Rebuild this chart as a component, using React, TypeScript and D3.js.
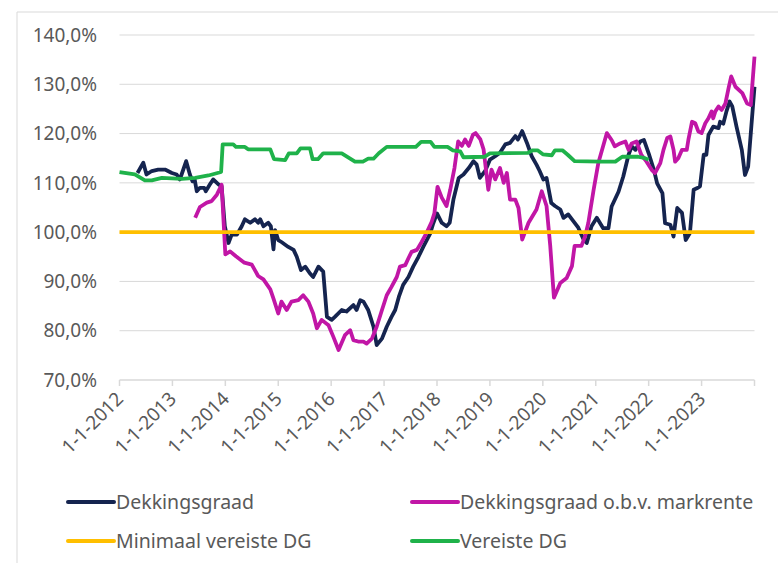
import * as d3 from "d3";

// Dekkingsgraad (decimal years / %)
const dgYears = [
  2012.34, 2012.45, 2012.51, 2012.61, 2012.73, 2012.86, 2012.99, 2013.08, 2013.14, 2013.18,
  2013.26, 2013.33, 2013.38, 2013.42, 2013.46, 2013.52, 2013.6, 2013.63, 2013.71, 2013.77,
  2013.87, 2013.93, 2013.99, 2014.06, 2014.12, 2014.22, 2014.31, 2014.37, 2014.47, 2014.56,
  2014.62, 2014.66, 2014.72, 2014.81, 2014.86, 2014.91, 2014.94, 2015.0, 2015.06, 2015.19,
  2015.29, 2015.35, 2015.43, 2015.51, 2015.6, 2015.66, 2015.76, 2015.85, 2015.92, 2016.01,
  2016.07, 2016.2, 2016.29, 2016.42, 2016.48, 2016.55, 2016.61, 2016.7, 2016.8, 2016.86,
  2016.96, 2017.05, 2017.14, 2017.21, 2017.28, 2017.36, 2017.46, 2017.55, 2017.65, 2017.74,
  2017.87, 2017.93, 2018.0, 2018.09, 2018.18, 2018.24, 2018.31, 2018.41, 2018.5, 2018.6,
  2018.69, 2018.75, 2018.81, 2018.91, 2019.0, 2019.1, 2019.19, 2019.29, 2019.38, 2019.48,
  2019.53, 2019.61, 2019.7, 2019.79, 2019.88, 2019.94, 2020.01, 2020.07, 2020.16, 2020.23,
  2020.33, 2020.39, 2020.48, 2020.58, 2020.67, 2020.77, 2020.83, 2020.92, 2021.02, 2021.14,
  2021.24, 2021.3, 2021.43, 2021.52, 2021.62, 2021.68, 2021.75, 2021.84, 2021.91, 2022.0,
  2022.1, 2022.16, 2022.26, 2022.31, 2022.41, 2022.47, 2022.54, 2022.63, 2022.7, 2022.78,
  2022.85, 2022.91, 2022.97, 2023.04, 2023.09, 2023.13, 2023.22, 2023.32, 2023.35, 2023.41,
  2023.47, 2023.53, 2023.58, 2023.66, 2023.76, 2023.82, 2023.88, 2024.0,
];
const dgValues = [
  112.0, 114.1, 111.7, 112.4, 112.7, 112.7, 112.0, 111.7, 110.7, 111.9,
  114.4, 111.7, 110.3, 110.7, 108.3, 109.0, 109.0, 108.3, 109.7, 110.7,
  109.7, 109.3, 101.2, 97.8, 99.5, 99.5, 101.2, 102.6, 101.9, 102.6,
  101.9, 102.6, 101.2, 101.9, 101.2, 96.5, 100.4, 98.4, 98.0, 97.0,
  96.4, 95.0, 92.3, 93.0, 91.6, 90.9, 93.0, 92.0, 82.8, 82.2,
  82.8, 84.2, 83.9, 85.2, 84.2, 86.2, 85.9, 84.2, 80.8, 77.1,
  78.4, 80.8, 82.8, 84.2, 86.9, 89.3, 90.9, 93.0, 95.0, 97.0,
  99.7, 101.8, 103.8, 101.9, 101.2, 101.9, 106.6, 111.0, 111.7, 113.0,
  114.4, 113.7, 111.0, 112.4, 114.7, 115.4, 116.1, 117.8, 118.1, 119.5,
  118.8, 120.5, 118.1, 115.4, 113.7, 112.4, 110.7, 111.0, 105.9, 105.3,
  104.6, 102.9, 103.6, 102.2, 100.9, 98.5, 97.8, 101.2, 102.9, 100.8,
  100.8, 105.2, 108.2, 111.3, 115.7, 117.4, 116.7, 118.4, 118.7, 116.0,
  112.6, 109.9, 107.9, 101.8, 101.5, 99.1, 104.9, 103.9, 98.4, 99.8,
  108.6, 108.9, 109.3, 115.7, 115.7, 119.7, 121.4, 121.1, 122.4, 122.0,
  124.5, 126.5, 125.5, 121.4, 116.7, 111.6, 113.3, 129.5,
];

// Dekkingsgraad o.b.v. markrente
const marktYears = [
  2013.43, 2013.52, 2013.65, 2013.74, 2013.84, 2013.93, 2014.0, 2014.09, 2014.2, 2014.36,
  2014.5, 2014.62, 2014.72, 2014.85, 2014.91, 2015.0, 2015.06, 2015.16, 2015.25, 2015.38,
  2015.47, 2015.57, 2015.66, 2015.73, 2015.82, 2015.95, 2016.04, 2016.14, 2016.26, 2016.36,
  2016.42, 2016.51, 2016.61, 2016.67, 2016.77, 2016.86, 2016.96, 2017.05, 2017.14, 2017.24,
  2017.3, 2017.4, 2017.46, 2017.52, 2017.62, 2017.71, 2017.81, 2017.9, 2017.95, 2018.01,
  2018.09, 2018.18, 2018.25, 2018.33, 2018.4, 2018.47, 2018.53, 2018.6, 2018.68, 2018.73,
  2018.82, 2018.88, 2018.97, 2019.03, 2019.1, 2019.19, 2019.26, 2019.32, 2019.38, 2019.48,
  2019.54, 2019.61, 2019.73, 2019.88, 2019.98, 2020.07, 2020.14, 2020.21, 2020.33, 2020.45,
  2020.55, 2020.6, 2020.73, 2020.8, 2020.86, 2020.96, 2021.05, 2021.21, 2021.3, 2021.36,
  2021.46, 2021.56, 2021.62, 2021.68, 2021.77, 2021.86, 2021.96, 2022.06, 2022.12, 2022.22,
  2022.28, 2022.35, 2022.41, 2022.47, 2022.5, 2022.56, 2022.63, 2022.72, 2022.75, 2022.82,
  2022.88, 2022.94, 2023.0, 2023.07, 2023.13, 2023.19, 2023.22, 2023.26, 2023.32, 2023.38,
  2023.45, 2023.51, 2023.56, 2023.64, 2023.77, 2023.86, 2023.93, 2024.0,
];
const marktValues = [
  102.9, 105.1, 106.0, 106.3, 107.6, 109.6, 95.5, 96.1, 95.1, 93.8,
  93.4, 91.1, 90.4, 88.4, 86.5, 83.5, 85.9, 84.2, 85.9, 86.2,
  87.2, 85.9, 83.5, 80.5, 82.2, 81.1, 78.8, 76.1, 79.1, 80.1,
  78.1, 77.8, 77.8, 77.4, 78.4, 80.8, 84.2, 87.2, 88.9, 90.9,
  93.0, 93.3, 94.7, 96.0, 96.4, 98.0, 100.0, 102.1, 103.8, 109.2,
  107.0, 105.3, 108.6, 113.0, 118.4, 117.5, 118.8, 117.5, 119.8, 120.1,
  118.8, 116.8, 108.6, 112.7, 110.7, 113.0, 110.0, 112.0, 106.6, 106.6,
  104.9, 98.5, 101.9, 104.6, 108.3, 105.3, 97.2, 86.7, 89.7, 90.7,
  93.1, 97.2, 97.2, 99.2, 101.9, 108.6, 114.1, 120.1, 118.7, 117.4,
  118.0, 118.4, 116.7, 118.0, 118.4, 115.7, 114.3, 112.6, 112.0, 114.0,
  116.7, 119.1, 119.4, 116.7, 114.3, 115.0, 116.7, 116.7, 118.7, 122.4,
  122.1, 120.4, 120.1, 122.1, 123.1, 124.5, 123.1, 124.5, 125.5, 124.8,
  126.1, 129.2, 131.6, 129.5, 128.2, 126.1, 125.8, 135.6,
];

// Vereiste DG
const vereisteYears = [
  2012.0, 2012.29, 2012.48, 2012.61, 2012.8, 2013.18, 2013.43, 2013.68, 2013.92, 2013.95,
  2014.15, 2014.2, 2014.37, 2014.43, 2014.85, 2014.92, 2015.13, 2015.2, 2015.35, 2015.42,
  2015.6, 2015.65, 2015.75, 2015.85, 2016.2, 2016.45, 2016.6, 2016.7, 2016.8, 2016.9,
  2017.05, 2017.6, 2017.7, 2017.88, 2017.95, 2018.2, 2018.3, 2018.44, 2018.5, 2018.9,
  2019.0, 2019.72, 2019.8, 2019.9, 2020.0, 2020.17, 2020.23, 2020.37, 2020.47, 2020.6,
  2021.08, 2021.37, 2021.5, 2021.8, 2021.93, 2022.0,
];
const vereisteValues = [
  112.2, 111.7, 110.5, 110.5, 111.0, 110.8, 111.0, 111.5, 112.2, 117.8,
  117.8, 117.3, 117.3, 116.8, 116.8, 114.8, 114.6, 116.0, 116.0, 117.0,
  117.0, 114.8, 114.8, 116.0, 116.0, 114.3, 114.3, 114.9, 114.9, 116.0,
  117.3, 117.3, 118.3, 118.3, 117.3, 117.3, 116.6, 116.4, 115.2, 115.3,
  116.0, 116.1, 116.6, 116.6, 115.8, 115.6, 116.6, 116.6, 115.7, 114.4,
  114.3, 114.3, 115.3, 115.3, 115.0, 114.7,
];

// Minimaal vereiste DG
const minimaalYears = [2012, 2024];
const minimaalValues = [100, 100];

const yTicks = [70, 80, 90, 100, 110, 120, 130, 140];
const xTicks = [2012, 2013, 2014, 2015, 2016, 2017, 2018, 2019, 2020, 2021, 2022, 2023, 2024];
const xLabels = [
  "1-1-2012", "1-1-2013", "1-1-2014", "1-1-2015", "1-1-2016", "1-1-2017",
  "1-1-2018", "1-1-2019", "1-1-2020", "1-1-2021", "1-1-2022", "1-1-2023",
];

const series = [
  { name: "Dekkingsgraad", years: dgYears, values: dgValues, color: "#15244f" },
  { name: "Dekkingsgraad o.b.v. markrente", years: marktYears, values: marktValues, color: "#c116a6" },
  { name: "Minimaal vereiste DG", years: minimaalYears, values: minimaalValues, color: "#ffbf00" },
  { name: "Vereiste DG", years: vereisteYears, values: vereisteValues, color: "#1fb24a" },
];

const W = 778;
const H = 563;
const font = "'Noto Sans', 'DejaVu Sans', sans-serif";
const textColor = "#595959";

export default function App() {
  const x = d3.scaleLinear().domain([2012, 2024]).range([119.5, 754.5]);
  const y = d3.scaleLinear().domain([70, 140]).range([380, 35]);

  const line = d3
    .line<[number, number]>()
    .x((d) => x(d[0]))
    .y((d) => y(d[1]));

  // legend slots: 2 columns, 2 rows
  const legendPos = [
    { lx: 68, ly: 502 },
    { lx: 412, ly: 502 },
    { lx: 68, ly: 541 },
    { lx: 412, ly: 541 },
  ];

  return (
    <div style={{ position: "absolute", left: 0, top: 0 }}>
      <svg width={W} height={H} style={{ display: "block", background: "#fff" }}>
        {/* chart frame */}
        <line x1={17} y1={12} x2={W} y2={12} stroke="#d9d9d9" strokeWidth={1} />
        <line x1={17} y1={12} x2={17} y2={H} stroke="#d9d9d9" strokeWidth={1} />

        {/* gridlines */}
        {yTicks.slice(1).map((t) => (
          <line key={t} x1={x(2012)} x2={x(2024)} y1={y(t)} y2={y(t)} stroke="#d9d9d9" strokeWidth={1} />
        ))}

        {/* y labels */}
        {yTicks.map((t) => (
          <text
            key={t}
            x={97}
            y={y(t)}
            dy="0.35em"
            textAnchor="end"
            fontFamily={font}
            fontSize={19}
            fill={textColor}
          >
            {t.toFixed(1).replace(".", ",") + "%"}
          </text>
        ))}

        {/* x axis */}
        <line x1={x(2012)} x2={x(2024)} y1={y(70)} y2={y(70)} stroke="#d9d9d9" strokeWidth={1.5} />
        {xTicks.map((t) => (
          <line key={t} x1={x(t)} x2={x(t)} y1={y(70)} y2={y(70) + 6} stroke="#d9d9d9" strokeWidth={1.5} />
        ))}
        {xLabels.map((lab, i) => (
          <text
            key={lab}
            transform={`translate(${x(xTicks[i]) + 5},${y(70) + 20}) rotate(-45)`}
            textAnchor="end"
            fontFamily={font}
            fontSize={19}
            fill={textColor}
          >
            {lab}
          </text>
        ))}

        {/* series */}
        {series.map((s) => (
          <path
            key={s.name}
            d={line(s.years.map((yr, i) => [yr, s.values[i]] as [number, number])) || ""}
            fill="none"
            stroke={s.color}
            strokeWidth={3.8}
            strokeLinejoin="round"
          />
        ))}

        {/* legend */}
        {series.map((s, i) => (
          <g key={s.name}>
            <line
              x1={legendPos[i].lx}
              x2={legendPos[i].lx + 46}
              y1={legendPos[i].ly}
              y2={legendPos[i].ly}
              stroke={s.color}
              strokeWidth={4}
              strokeLinecap="round"
            />
            <text
              x={legendPos[i].lx + 48}
              y={legendPos[i].ly}
              dy="0.35em"
              fontFamily={font}
              fontSize={19.5}
              fill={textColor}
            >
              {s.name}
            </text>
          </g>
        ))}
      </svg>
    </div>
  );
}
